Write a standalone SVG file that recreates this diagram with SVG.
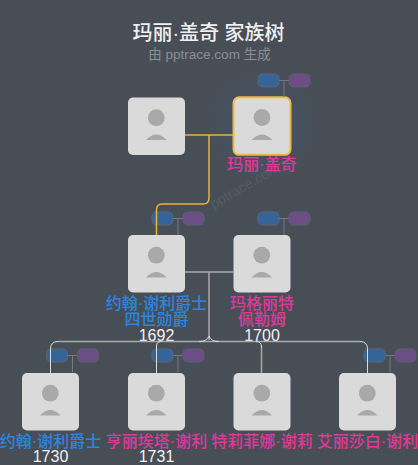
<svg xmlns="http://www.w3.org/2000/svg" width="418" height="465" viewBox="0 0 418 465">
<defs>
<radialGradient id="glow"><stop offset="0" stop-color="#3f5a86" stop-opacity=".5"/><stop offset="1" stop-color="#3f5a86" stop-opacity="0"/></radialGradient>
<g id="card"><rect class="card" x="0" y="0" width="57" height="57.500" rx="5"/><circle class="av" cx="28.300" cy="20.200" r="8.400"/><path class="av" d="M18 42.500Q28.300 31.500 38.600 42.500Z"/></g>
<g id="pills"><path class="stem" d="M21 6.500H31M26 6.500V23"/><rect class="blue" x="0" y="0" width="21" height="13" rx="4.500"/><rect class="purple" x="31" y="0" width="21" height="13" rx="4.500"/></g>
</defs>
<style>
text{font-family:"Liberation Sans","Noto Sans CJK SC",sans-serif;text-anchor:middle}
.card{fill:#dadada}.av{fill:#a9a9a9}
.stem{fill:none;stroke:#747a84;stroke-width:1}
.blue{fill:#356499;stroke:#5a6675;stroke-width:1}.purple{fill:#6c4d84;stroke:#5f5f74;stroke-width:1}
.link{fill:none;stroke:#a8a9ab;stroke-width:1.500}.hi{fill:none;stroke:#dcdcdc;stroke-width:1}.gold{fill:none;stroke:#e8b33c;stroke-width:1.500}
.m{fill:#e0379b;font-size:16px;font-weight:500}.b{fill:#2a86e0;font-size:16px;font-weight:500}.y{fill:#f2f2f2;font-size:16px}
</style>
<rect width="418" height="465" fill="#484e56"/>
<ellipse cx="262" cy="126" rx="58" ry="58" fill="url(#glow)"/>
<text x="208.500" y="39.500" font-size="20" font-weight="500" fill="#f0f0f0">玛丽·盖奇 家族树</text>
<text x="209.500" y="59" font-size="13.500" fill="#8b8f95">由 pptrace.com 生成</text>
<text x="247" y="190" font-size="14" fill="#555b63" transform="rotate(-30 247 190)">pptrace.com</text>
<g id="p1"><use href="#card" x="128" y="97.500"/></g>
<g id="p2"><rect x="233.500" y="97.300" width="57" height="57.500" rx="5.500" fill="#dadada" stroke="#eeb93f" stroke-width="2"/><circle class="av" cx="262" cy="117.500" r="8.400"/><path class="av" d="M251.700 140Q262 129 272.300 140Z"/><use href="#pills" x="258" y="74"/><text class="m" x="262" y="170">玛丽·盖奇</text></g>
<g id="p3"><use href="#pills" x="152" y="212"/><use href="#card" x="128" y="235"/><text class="b" x="156.500" y="308.500">约翰·谢利爵士</text><text class="b" x="156.500" y="324.500">四世勋爵</text><text class="y" x="156.500" y="341">1692</text></g>
<g id="p4"><use href="#pills" x="258" y="212"/><use href="#card" x="233.500" y="235"/><text class="m" x="262" y="308.500">玛格丽特</text><text class="m" x="262" y="324.500">佩勒姆</text><text class="y" x="262" y="341">1700</text></g>
<g id="c1"><use href="#pills" x="46.500" y="349"/><use href="#card" x="22" y="373"/><text class="b" x="50.500" y="446.500">约翰·谢利爵士</text><text class="y" x="50.500" y="462">1730</text></g>
<g id="c2"><use href="#pills" x="152" y="349"/><use href="#card" x="128" y="373"/><text class="m" x="156.500" y="446.500">亨丽埃塔·谢利</text><text class="y" x="156.500" y="462">1731</text></g>
<g id="c3"><use href="#card" x="233.500" y="373"/><text class="m" x="262" y="446.500">特莉菲娜·谢莉</text></g>
<g id="c4"><use href="#pills" x="364" y="349"/><use href="#card" x="339" y="373"/><text class="m" x="367.500" y="446.500">艾丽莎白·谢利</text></g>
<g id="connectors">
<path class="link" d="M185 272H233.500M209 272V340M58 341.500H360M261.500 346V373"/>
<path class="hi" d="M50.500 373V349Q50.500 341.500 58 341.500M156.500 373V346Q156.500 341.500 161 341.500M199 341.500Q207 341.500 209 336Q211 341.500 219 341.500M256 341.500Q261.500 341.500 261.500 347M360 341.500Q367.500 341.500 367.500 349V373"/>
<path class="gold" d="M185 135H233M209 135V198Q209 204 203 204H162Q156.500 204 156.500 210V235"/>
</g>
</svg>
